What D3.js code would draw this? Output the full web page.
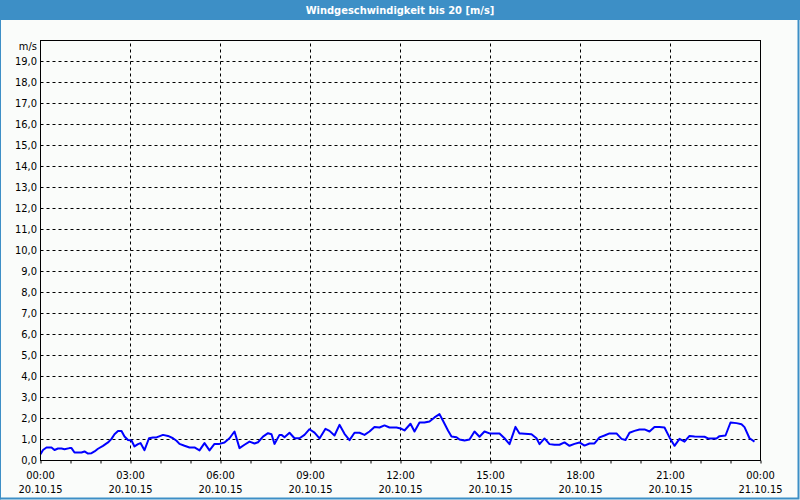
<!DOCTYPE html>
<html><head><meta charset="utf-8">
<script src="https://cdn.jsdelivr.net/npm/d3@7"></script>
<style>
html,body{margin:0;padding:0;background:#fafcfa;}
svg{display:block;}
text{font-family:Tahoma,"DejaVu Sans Condensed","Liberation Sans",sans-serif;font-size:11px;fill:#000;}
</style></head>
<body>
<script>
const title = "Windgeschwindigkeit bis 20 [m/s]";
const unitLabel = "m/s";
// minutes since 20.10.15 00:00
const minutes = [0,5,12,22,28,35,42,48,58,62,68,82,88,95,102,108,115,125,135,142,148,155,162,168,175,182,188,195,200,208,217,225,232,
245,255,265,272,278,288,298,308,318,328,338,348,358,368,378,388,398,408,418,428,435,445,455,462,468,478,
482,488,498,508,518,528,538,548,558,570,578,588,598,608,618,628,638,648,658,668,678,688,698,712,
722,728,740,748,758,768,778,788,798,805,815,822,832,838,848,858,868,878,888,898,908,918,928,938,950,958,
962,982,992,998,1008,1018,1028,1038,1048,1058,1068,1078,1088,1098,1108,1118,1128,1138,1152,1162,1170,1178,1188,1198,
1208,1218,1228,1238,1248,1258,1268,1278,1288,1298,1308,1328,1335,1352,1358,1370,1380,1392,1402,1408,1418,1428];
const speeds = [0.30,0.50,0.62,0.62,0.50,0.57,0.57,0.54,0.59,0.59,0.38,0.38,0.43,0.33,0.35,0.43,0.56,0.70,0.86,1.03,1.25,1.40,1.40,1.14,0.98,0.95,0.67,0.78,0.83,0.49,1.06,1.10,1.10,
1.22,1.17,1.06,0.94,0.79,0.70,0.62,0.62,0.48,0.83,0.48,0.79,0.79,0.86,1.06,1.38,0.59,0.75,0.90,0.81,0.87,1.14,1.30,1.25,0.79,1.22,
1.22,1.11,1.32,1.06,1.06,1.22,1.49,1.33,1.05,1.51,1.41,1.19,1.70,1.27,0.97,1.32,1.32,1.22,1.38,1.60,1.57,1.67,1.57,1.57,
1.51,1.43,1.75,1.38,1.81,1.81,1.86,2.05,2.21,1.89,1.43,1.14,1.11,1.00,0.95,1.00,1.38,1.13,1.38,1.29,1.29,1.29,1.06,0.78,1.60,1.29,
1.29,1.25,1.06,0.78,1.05,0.78,0.75,0.75,0.86,0.70,0.79,0.86,0.71,0.81,0.81,1.10,1.19,1.29,1.29,1.03,0.98,1.32,1.41,1.48,
1.48,1.38,1.60,1.59,1.57,1.10,0.70,1.03,0.90,1.17,1.14,1.13,1.05,1.05,1.16,1.19,1.81,1.78,1.73,1.59,1.06,0.90];
const xTickTimes = ["00:00","03:00","06:00","09:00","12:00","15:00","18:00","21:00","00:00"];
const xTickDates = ["20.10.15","20.10.15","20.10.15","20.10.15","20.10.15","20.10.15","20.10.15","20.10.15","21.10.15"];
const yTicks = d3.range(0, 20, 1);

const W = 800, H = 500;
const svg = d3.select("body").append("svg").attr("width", W).attr("height", H);
svg.append("rect").attr("x",0).attr("y",0).attr("width",W).attr("height",H).attr("fill","#fafcfa");

// title bar
svg.append("rect").attr("x",0).attr("y",0).attr("width",W).attr("height",20).attr("fill","#3d8fc6");
svg.append("text").attr("x",400).attr("y",10).attr("dy","0.35em").attr("text-anchor","middle")
  .style("fill","#fff").style("font-weight","bold").text(title);
// window border
svg.append("path").attr("d","M0.5,20V499.5").attr("stroke","#3d8fc6").attr("fill","none");
svg.append("path").attr("d","M798.5,20V498.5H0").attr("stroke","#3d8fc6").attr("stroke-width",2).attr("fill","none");

const x = d3.scaleLinear().domain([0, 1440]).range([40.5, 760.5]);
const y = d3.scaleLinear().domain([0, 20]).range([460.5, 40.5]);

// horizontal gridlines
svg.append("g").selectAll("line").data(yTicks.filter(v => v > 0)).join("line")
  .attr("x1", x(0)).attr("x2", x(1440)).attr("y1", d => y(d)).attr("y2", d => y(d))
  .attr("stroke","#000").attr("stroke-dasharray","3,3");
// vertical gridlines
const majors = d3.range(0, 1441, 180);
svg.append("g").selectAll("line").data(majors.slice(1, -1)).join("line")
  .attr("x1", d => x(d)).attr("x2", d => x(d)).attr("y1", y(0)).attr("y2", y(20))
  .attr("stroke","#000").attr("stroke-dasharray","3,3");

// y labels
svg.append("g").selectAll("text").data(yTicks).join("text")
  .attr("x", 37).attr("y", d => y(d)).attr("dy","0.35em").attr("text-anchor","end")
  .text(d => d.toFixed(1).replace(".", ","));
svg.append("text").attr("x",37).attr("y",46).attr("dy","0.35em").attr("text-anchor","end").text(unitLabel);

// x axis with hourly ticks
const xAxis = d3.axisBottom(x).tickValues(d3.range(0, 1441, 60)).tickSize(3).tickFormat("");
const gx = svg.append("g").attr("transform", `translate(0,${y(0)})`).call(xAxis);
gx.select(".domain").remove();
gx.selectAll(".tick line").attr("stroke","#000");

svg.append("g").selectAll("text").data(majors).join("text")
  .attr("x", d => x(d)).attr("y", 475).attr("dy","0.35em").attr("text-anchor","middle")
  .text((d, i) => xTickTimes[i]);
svg.append("g").selectAll("text").data(majors).join("text")
  .attr("x", d => x(d)).attr("y", 489).attr("dy","0.35em").attr("text-anchor","middle")
  .text((d, i) => xTickDates[i]);

// data line
const pts = minutes.map((m, i) => [m, speeds[i]]);
svg.append("path").datum(pts)
  .attr("d", d3.line().x(d => x(d[0])).y(d => y(d[1])))
  .attr("fill","none").attr("stroke","#0000ff").attr("stroke-width",2).attr("stroke-linejoin","round");

// plot frame
svg.append("rect").attr("x", x(0)).attr("y", y(20)).attr("width", x(1440) - x(0)).attr("height", y(0) - y(20))
  .attr("fill","none").attr("stroke","#000");
</script>
</body></html>
